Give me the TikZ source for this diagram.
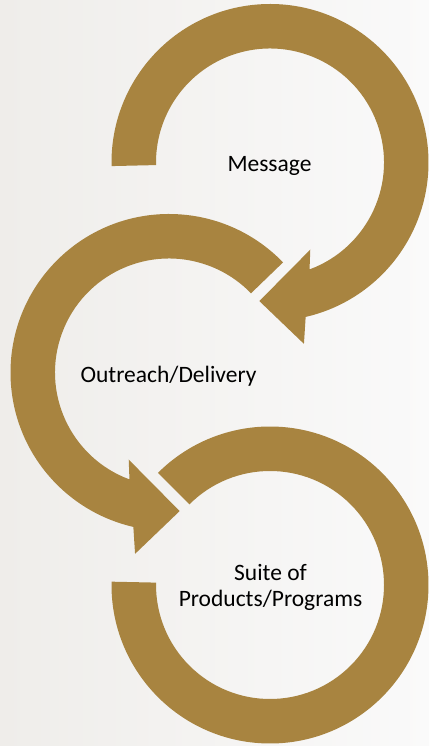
\documentclass[tikz,border=0pt]{standalone}
\usepackage{fontspec}
\setmainfont{Carlito}
\definecolor{gold}{RGB}{168,132,64}
\definecolor{bgleft}{RGB}{239,237,234}
\definecolor{bgright}{RGB}{250,250,250}
\tikzset{
  band/.style={fill=gold, draw=none},
  lbl/.style={font=\fontsize{23.5}{26}\selectfont, text=black, inner sep=0pt, align=center}
}
\begin{document}
\begin{tikzpicture}[x=1pt,y=1pt]
\useasboundingbox (0,0) rectangle (429,746);
\shade[left color=bgleft, right color=bgright] (0,0) rectangle (429,746);
% circle 1: Message
\begin{scope}[shift={(270,583.5)}]
\fill[band] (181.3:158.5) arc[start angle=181.3,end angle=-77,radius=158.5]
  -- (-79.4:184.5) -- (-94.4:139) -- (-65.2:96) -- (-69.7:114)
  arc[start angle=-69.7,end angle=181.3,radius=114] -- cycle;
\end{scope}
% circle 2: Outreach/Delivery
\begin{scope}[shift={(169,373.5)}]
\fill[band] (44:158.5) arc[start angle=44,end angle=257,radius=158.5]
  -- (259.4:184.5) -- (274.4:139) -- (245.2:96) -- (249.7:114)
  arc[start angle=249.7,end angle=44,radius=114] -- cycle;
\end{scope}
% circle 3: Suite of Products/Programs
\begin{scope}[shift={(270,161)}]
\fill[band] (178.8:158.5) arc[start angle=178.8,end angle=495,radius=158.5]
  -- (495:114) arc[start angle=495,end angle=178.8,radius=114] -- cycle;
\end{scope}
\node[lbl, anchor=base] (msg) at (269.5,574.3) {Message};
\node[lbl, anchor=base] (out) at (168.5,363.7) {Outreach/Delivery};
\node[lbl, anchor=base] (suite) at (270.5,139.3) {Suite of\\Products/Programs};
\end{tikzpicture}
\end{document}
